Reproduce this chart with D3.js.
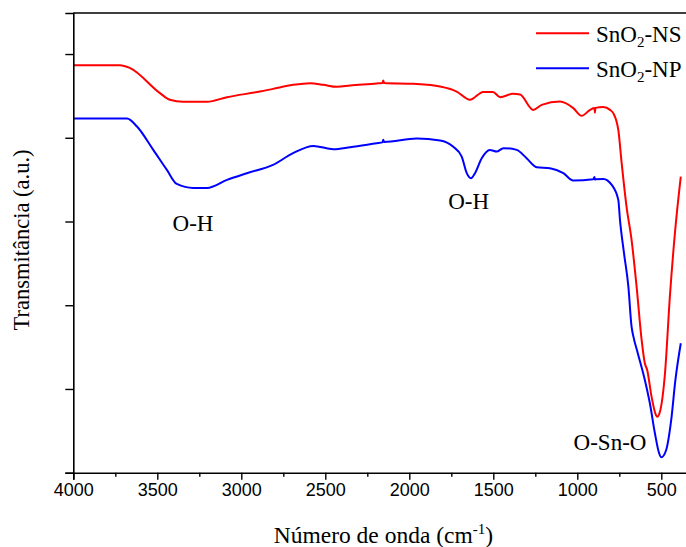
<!DOCTYPE html>
<html><head><meta charset="utf-8">
<script src="https://cdn.jsdelivr.net/npm/d3@7"></script>
<style>body{margin:0;background:#fff}svg{display:block}</style>
</head><body>
<svg id="c" width="686" height="547"></svg>
<script>
const nsWave = [4000,3722,3662,3484,3425,3347,3204,3085,2889,2811,2692,2590,2512,2430,2352,2194,2160,2155,2150,1976,1817,1718,1639,1560,1502,1460,1382,1341,1262,1212,1103,1024,974,924,898,895,892,845,805,786,756,736,707,677,647,617,598,584,558,532,524,508,478,449,419,384];
const nsVal  = [4.867,4.867,4.832,4.533,4.453,4.430,4.430,4.485,4.552,4.584,4.632,4.652,4.632,4.608,4.624,4.648,4.655,4.685,4.655,4.644,4.612,4.552,4.453,4.548,4.548,4.485,4.525,4.516,4.333,4.393,4.432,4.354,4.262,4.333,4.355,4.300,4.357,4.366,4.333,4.294,4.094,3.700,3.178,2.780,2.222,1.585,1.307,1.227,0.908,0.689,0.669,0.729,1.188,2.103,2.860,3.536];
const npWave = [4000,3680,3621,3524,3443,3384,3286,3204,3085,2967,2811,2692,2571,2452,2352,2194,2160,2155,2150,1956,1817,1740,1688,1658,1633,1609,1569,1520,1480,1440,1361,1302,1242,1163,1083,1024,905,898,895,892,845,795,756,746,722,696,677,666,640,598,568,538,513,500,471,441,416,384];
const npVal  = [4.229,4.229,4.134,3.855,3.616,3.449,3.401,3.401,3.497,3.577,3.676,3.816,3.903,3.864,3.888,3.935,3.945,3.975,3.950,3.990,3.967,3.895,3.775,3.577,3.517,3.577,3.756,3.855,3.835,3.876,3.855,3.756,3.649,3.637,3.577,3.489,3.505,3.530,3.500,3.505,3.509,3.437,3.258,3.020,2.621,2.222,1.744,1.625,1.427,1.108,0.829,0.471,0.232,0.184,0.271,0.630,1.108,1.546];
const xTicks = [4000,3500,3000,2500,2000,1500,1000,500];
const xMinor = [3750,3250,2750,2250,1750,1250,750];
const yTicks = [0,1,2,3,4,5];
const seriesNames = ["NS","NP"];
const colors = ["#ff0000","#0000ff"];

const svg = d3.select("#c");
const x = d3.scaleLinear().domain([4000,350]).range([73.3,686.5]);
const y = d3.scaleLinear().domain([0,5.49]).range([472.7,13]);

svg.append("line").attr("x1",x(4000)).attr("x2",686).attr("y1",y(5.49)).attr("y2",y(5.49))
  .attr("stroke","#000").attr("stroke-width",1.6);

const line = d3.line().x(d=>x(d[0])).y(d=>y(d[1])).curve(d3.curveMonotoneX);
const series = [d3.zip(nsWave,nsVal), d3.zip(npWave,npVal)];
series.forEach((s,i)=>{
  svg.append("path").attr("d",line(s)).attr("fill","none").attr("stroke",colors[i]).attr("stroke-width",2).attr("stroke-linejoin","round");
});

const xAxis = svg.append("g").attr("transform",`translate(0,${y(0)})`)
  .call(d3.axisBottom(x).tickValues(xTicks).tickSize(7).tickPadding(4).tickFormat(d3.format("d")));
const xMin = svg.append("g").attr("transform",`translate(0,${y(0)})`)
  .call(d3.axisBottom(x).tickValues(xMinor).tickSize(4).tickFormat(""));
const yAxis = svg.append("g").attr("transform",`translate(${x(4000)},0)`)
  .call(d3.axisLeft(y).tickValues(yTicks).tickSize(8).tickFormat(""));
[xAxis,xMin,yAxis].forEach(g=>{
  g.select(".domain").attr("stroke","#000").attr("stroke-width",1.6);
  g.selectAll(".tick line").attr("stroke","#000").attr("stroke-width",1.4);
});
xMin.select(".domain").remove();
xAxis.selectAll(".tick text").attr("font-family","Liberation Sans, Arial, sans-serif").attr("font-size",18).attr("fill","#000");

const serif = "Liberation Serif, Times New Roman, serif";
const xt = svg.append("text").attr("x",383.4).attr("y",543).attr("text-anchor","middle")
  .attr("font-family",serif).attr("font-size",23.5).attr("fill","#000");
xt.append("tspan").text("Número de onda (cm");
xt.append("tspan").attr("dy",-9).attr("font-size",15).text("-1");
xt.append("tspan").attr("dy",9).text(")");
svg.append("text").attr("transform","translate(28.5,240) rotate(-90)").attr("text-anchor","middle")
  .attr("font-family",serif).attr("font-size",22.5).attr("fill","#000").text("Transmitância (a.u.)");

const notes = [["O-H",193,230.5],["O-H",468.7,208.5],["O-Sn-O",610,449.5]];
notes.forEach(n=>svg.append("text").attr("x",n[1]).attr("y",n[2]).attr("text-anchor","middle")
  .attr("font-family",serif).attr("font-size",23).attr("fill","#000").text(n[0]));

seriesNames.forEach((nm,i)=>{
  const ly = 33.3 + i*35;
  svg.append("line").attr("x1",536).attr("x2",589).attr("y1",ly).attr("y2",ly).attr("stroke",colors[i]).attr("stroke-width",2);
  const t = svg.append("text").attr("x",596).attr("y",ly+8.5).attr("font-family",serif).attr("font-size",23).attr("fill","#000");
  t.append("tspan").text("SnO");
  t.append("tspan").attr("dy",5).attr("font-size",15).text("2");
  t.append("tspan").attr("dy",-5).text("-"+nm);
});
</script>
</body></html>
